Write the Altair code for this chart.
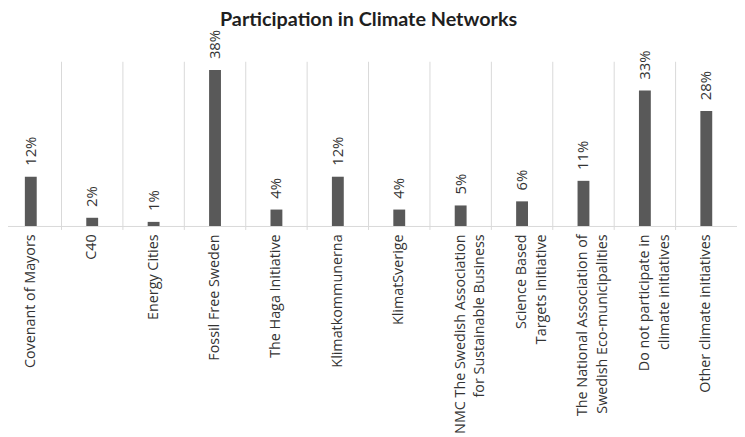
import altair as alt
import pandas as pd

categories = [
    "Covenant of Mayors",
    "C40",
    "Energy Cities",
    "Fossil Free Sweden",
    "The Haga Initiative",
    "Klimatkommunerna",
    "KlimatSverige",
    "NMC The Swedish Association|for Sustainable Business",
    "Science Based|Targets initiative",
    "The National Association of|Swedish Eco-municipalities",
    "Do not participate in|climate initiatives",
    "Other climate initiatives",
]
values = [12, 2, 1, 38, 4, 12, 4, 5, 6, 11, 33, 28]

df = pd.DataFrame({"category": categories, "value": values})
df["label"] = df["value"].astype(str) + "%"

FONT = "Open Sans"
TEXT_COLOR = "#333333"
GRID = "#d9d9d9"
W, H = 745, 166

xscale = alt.Scale(paddingInner=0, paddingOuter=0)

x_main = alt.X(
    "category:N",
    sort=categories,
    title=None,
    scale=xscale,
    axis=alt.Axis(
        labelAngle=270,
        labelExpr="split(datum.label, '|')",
        grid=False,
        ticks=False,
        domainColor=GRID,
        labelFont=FONT,
        labelFontSize=14.5,
        labelColor=TEXT_COLOR,
        labelPadding=8,
        labelLineHeight=20,
        labelLimit=0,
    ),
)
y_main = alt.Y("value:Q", scale=alt.Scale(domain=[0, 40]), axis=None)

grid = alt.Chart(df).mark_rule(color=GRID, strokeWidth=1).encode(
    x=alt.X("category:N", sort=categories, scale=xscale, bandPosition=0),
    y=alt.value(0),
    y2=alt.value(H + 4),
)

bars = alt.Chart(df).mark_bar(size=12, color="#595959").encode(x=x_main, y=y_main)

text = alt.Chart(df).mark_text(
    angle=270, align="left", baseline="middle", dx=11,
    font=FONT, fontSize=15, color=TEXT_COLOR,
).encode(x=x_main, y=y_main, text="label:N")

chart = alt.layer(grid, bars, text).properties(
    width=W,
    height=H,
    title=alt.Title(
        "Participation in Climate Networks",
        font="Lato", fontSize=20, fontWeight="bold", color="#1f1f1f",
        anchor="middle", offset=0,
    ),
    padding={"left": -8, "top": 52, "right": 0, "bottom": 215},
    autosize="none",
).configure_view(stroke=None)

chart.save("out.html", embed_options={"renderer": "svg", "actions": False})
